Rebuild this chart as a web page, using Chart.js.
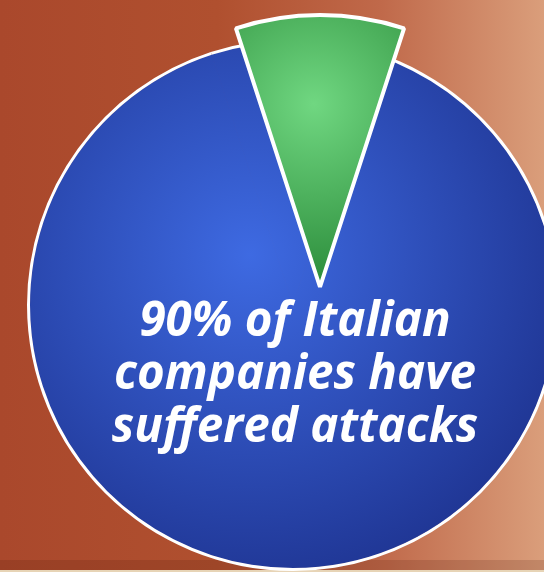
<!DOCTYPE html>
<html>
<head>
<meta charset="utf-8">
<script src="https://cdn.jsdelivr.net/npm/chart.js@4/dist/chart.umd.min.js"></script>
<style>
  html, body { margin: 0; padding: 0; }
  body {
    width: 544px; height: 572px; overflow: hidden; position: relative;
    background: linear-gradient(to right, #aa482c 0%, #b0502f 40%, #c0694a 70%, #da9e7b 100%);
  }
  .band { position: absolute; left: 0; top: 560px; width: 544px; height: 10px; background: rgba(70, 20, 5, 0.16); }
  .base { position: absolute; left: 0; top: 570px; width: 544px; height: 2px; background: #e7d4b6; }
  canvas { position: absolute; left: 0; top: 0; }
  #caption {
    position: absolute; left: 0; top: 291px; width: 590px;
    text-align: center; color: #fff;
    font: italic 700 47.5px/53px "Open Sans", sans-serif;
    pointer-events: none;
  }
</style>
</head>
<body>
<div class="band"></div>
<div class="base"></div>
<canvas id="disc" width="544" height="572"></canvas>
<canvas id="wedge" width="544" height="572"></canvas>
<div id="caption"></div>

<script>
'use strict';

// data
const labels = ['Not attacked', 'Suffered attacks'];
const shares = [10, 90];
const captionLines = ['90% of Italian', 'companies have', 'suffered attacks'];

document.getElementById('caption').innerHTML = captionLines.join('<br>');

function blueFill(c) {
  const g = c.chart.ctx.createRadialGradient(250, 255, 0, 250, 255, 340);
  g.addColorStop(0, '#3e6ae2');
  g.addColorStop(1, '#1f3593');
  return g;
}

function greenFill(c) {
  if (c.dataIndex !== 0) return 'rgba(0,0,0,0)';
  const g = c.chart.ctx.createRadialGradient(314, 104, 0, 314, 104, 180);
  g.addColorStop(0, '#70d781');
  g.addColorStop(1, '#2c8d3b');
  return g;
}

const quiet = {
  responsive: false,
  animation: false,
  events: [],
  rotation: -18,
  plugins: { legend: { display: false }, tooltip: { enabled: false } }
};

// back: the whole blue disc with its white rim (both shares painted blue)
new Chart(document.getElementById('disc'), {
  type: 'pie',
  data: {
    labels: labels,
    datasets: [
      { data: shares, backgroundColor: '#ffffff', borderWidth: 0, weight: 3, clip: false },
      { data: shares, backgroundColor: blueFill, borderColor: blueFill, borderWidth: 1, weight: 263, clip: false }
    ]
  },
  options: Object.assign({}, quiet, {
    radius: 266,
    layout: { padding: { left: 42, top: 38 } }
  })
});

// front: the 10% slice pulled out and larger
new Chart(document.getElementById('wedge'), {
  type: 'pie',
  data: {
    labels: labels,
    datasets: [{
      data: shares,
      backgroundColor: greenFill,
      borderColor: function(c) { return c.dataIndex === 0 ? '#ffffff' : 'rgba(0,0,0,0)'; },
      borderWidth: 4,
      clip: false
    }]
  },
  options: Object.assign({}, quiet, {
    radius: 272,
    layout: { padding: { left: 96, top: 2 } }
  })
});
</script>
</body>
</html>
